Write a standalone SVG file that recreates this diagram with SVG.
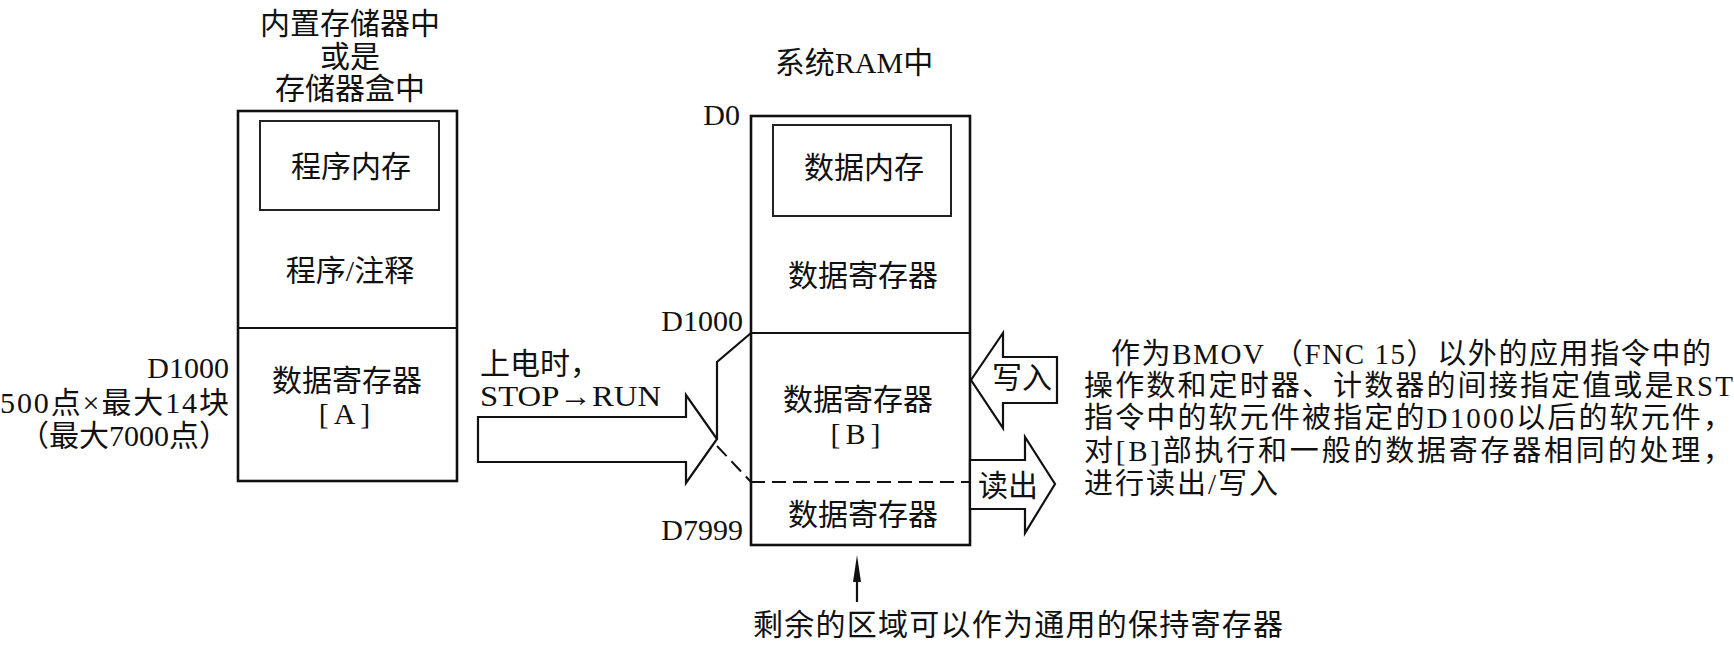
<svg xmlns="http://www.w3.org/2000/svg" width="1734" height="652" viewBox="0 0 1734 652">
<style>
text{font-family:"Liberation Serif","Noto Sans CJK SC",serif;font-size:30px;fill:#111}
.c{text-anchor:middle}
.e{text-anchor:end}
.p{font-size:29px}
.box{fill:none;stroke:#111;stroke-width:2.6}
.inner{fill:none;stroke:#222;stroke-width:2}
.ln{fill:none;stroke:#111;stroke-width:2.2}
.dash{fill:none;stroke:#111;stroke-width:2;stroke-dasharray:14 7}
.arr{fill:#fff;stroke:#111;stroke-width:2.2;stroke-linejoin:miter}
</style>
<rect width="1734" height="652" fill="#fff"/>

<g id="left-memory">
  <text class="c" x="350" y="34">内置存储器中</text>
  <text class="c" x="350" y="67">或是</text>
  <text class="c" x="350" y="99">存储器盒中</text>
  <rect class="box" x="238" y="111" width="219" height="370"/>
  <rect class="inner" x="260" y="121" width="179" height="89"/>
  <text class="c" x="351" y="177">程序内存</text>
  <text class="c" x="350" y="281">程序/注释</text>
  <line class="ln" x1="238" y1="328" x2="457" y2="328"/>
  <text class="c" x="347" y="391">数据寄存器</text>
  <text class="c" x="347" y="424" letter-spacing="5">[A]</text>
</g>

<g id="left-labels">
  <text class="e" x="229" y="378">D1000</text>
  <text class="e" x="229" y="413" textLength="229" lengthAdjust="spacing">500点×最大14块</text>
  <text class="e" x="229" y="446">（最大7000点）</text>
</g>

<g id="ram-block">
  <text class="c" x="854" y="73">系统RAM中</text>
  <text class="e" x="740" y="125">D0</text>
  <rect class="box" x="751" y="116" width="219" height="429"/>
  <rect class="inner" x="773" y="125" width="178" height="91"/>
  <text class="c" x="864" y="178">数据内存</text>
  <text class="c" x="863" y="286">数据寄存器</text>
  <text class="e" x="743" y="331">D1000</text>
  <line class="ln" x1="751" y1="333" x2="970" y2="333"/>
  <text class="c" x="858" y="410">数据寄存器</text>
  <text class="c" x="858" y="444" letter-spacing="5">[B]</text>
  <line class="dash" x1="751" y1="482" x2="970" y2="482"/>
  <text class="c" x="863" y="525">数据寄存器</text>
  <text class="e" x="743" y="540">D7999</text>
</g>

<g id="connectors">
  <text x="480" y="374">上电时，</text>
  <text x="480" y="406" textLength="181" lengthAdjust="spacingAndGlyphs">STOP→RUN</text>
  <polygon class="arr" points="478,417 686,417 686,395 717,439 686,483 686,462 478,462"/>
  <polyline class="ln" points="751,333 717,362 717,439"/>
  <line class="dash" x1="717" y1="446" x2="751" y2="482"/>
  <polygon class="arr" points="971,380 1003,333 1003,357 1057,357 1057,403 1003,403 1003,428"/>
  <text class="c" x="1022" y="388">写入</text>
  <polygon class="arr" points="970,460 1025,460 1025,437 1055,484 1025,533 1025,509 970,509"/>
  <text class="c" x="1008" y="496">读出</text>
  <line class="ln" x1="857" y1="602" x2="857" y2="575"/>
  <polygon points="857,555 853,582 861,582" fill="#111"/>
  <text x="753" y="635" textLength="530" lengthAdjust="spacing">剩余的区域可以作为通用的保持寄存器</text>
</g>

<g id="note">
  <text class="p" x="1111" y="364" textLength="600" lengthAdjust="spacing">作为BMOV （FNC 15）以外的应用指令中的</text>
  <text class="p" x="1084" y="396" textLength="649" lengthAdjust="spacing">操作数和定时器、计数器的间接指定值或是RST</text>
  <text class="p" x="1084" y="428" textLength="648" lengthAdjust="spacing">指令中的软元件被指定的D1000以后的软元件，</text>
  <text class="p" x="1084" y="461" textLength="648" lengthAdjust="spacing">对[B]部执行和一般的数据寄存器相同的处理，</text>
  <text class="p" x="1084" y="494" textLength="194" lengthAdjust="spacing">进行读出/写入</text>
</g>
</svg>
